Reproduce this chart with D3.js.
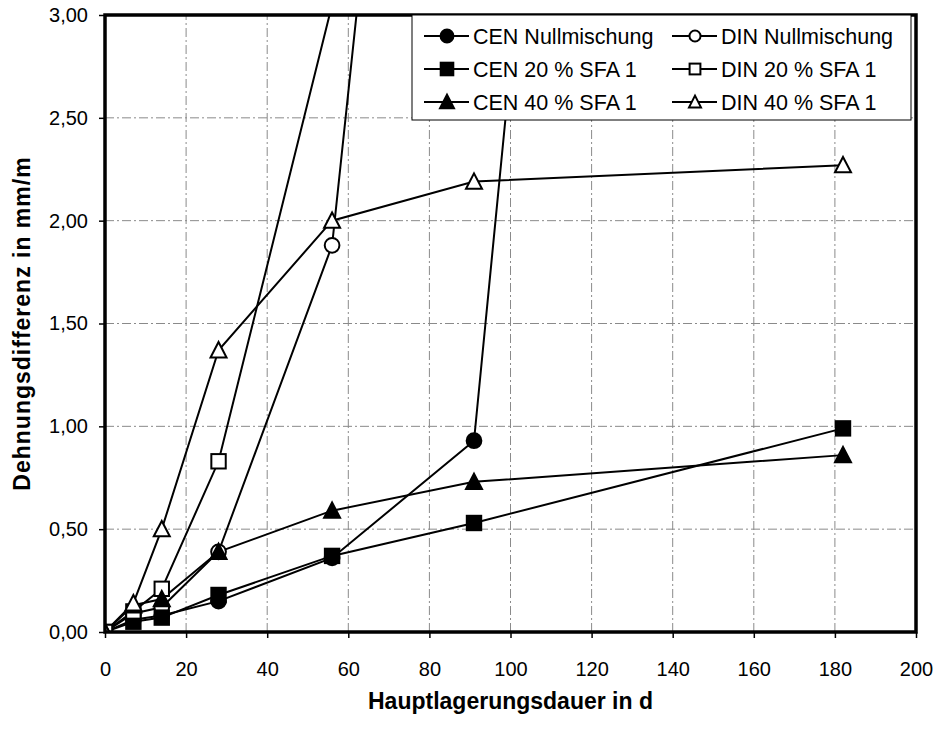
<!DOCTYPE html>
<html>
<head>
<meta charset="utf-8">
<script src="https://cdn.jsdelivr.net/npm/d3@7"></script>
<style>
  html, body { margin: 0; padding: 0; background: #fff; }
  svg { display: block; font-family: Arial, "Liberation Sans", sans-serif; }
</style>
</head>
<body>
<svg id="chart" width="935" height="729"></svg>
<script>
// Storage time in days
const days = [0, 7, 14, 28, 56, 91, 182];

// Strain difference in mm/m (null = not measured / off scale)
const cenNull = [0, 0.06, 0.08, 0.15, 0.36, 0.93, 19.3];
const dinNull = [0, 0.09, 0.12, 0.39, 1.88, 8.4, null];
const cen20   = [0, 0.05, 0.07, 0.18, 0.37, 0.53, 0.99];
const din20   = [0, 0.10, 0.21, 0.83, 3.05, null, null];
const cen40   = [0, 0.13, 0.16, 0.39, 0.59, 0.73, 0.86];
const din40   = [0, 0.14, 0.50, 1.37, 2.00, 2.19, 2.27];

const seriesNames = ["CEN Nullmischung", "DIN Nullmischung", "CEN 20 % SFA 1",
                     "DIN 20 % SFA 1", "CEN 40 % SFA 1", "DIN 40 % SFA 1"];
const seriesValues = [cenNull, dinNull, cen20, din20, cen40, din40];
const seriesShapes = ["circle", "circle", "square", "square", "triangle", "triangle"];
const seriesFilled = [true, false, true, false, true, false];

const xTicks = [0, 20, 40, 60, 80, 100, 120, 140, 160, 180, 200];
const yTicks = [0, 0.5, 1.0, 1.5, 2.0, 2.5, 3.0];

const xTitle = "Hauptlagerungsdauer in d";
const yTitle = "Dehnungsdifferenz in mm/m";

const svg = d3.select("#chart");
const margin = { left: 105, top: 15, right: 19, bottom: 97 };
const W = 935, H = 729;
const x = d3.scaleLinear().domain([0, 200]).range([margin.left, W - margin.right]);
const y = d3.scaleLinear().domain([0, 3]).range([H - margin.bottom, margin.top]);

const fmt = v => d3.format(".2f")(v).replace(".", ",");

// clip region = plot area
svg.append("defs").append("clipPath").attr("id", "plotClip")
  .append("rect")
  .attr("x", x(0)).attr("y", y(3))
  .attr("width", x(200) - x(0)).attr("height", y(0) - y(3));

// grid lines (dash-dot)
const grid = svg.append("g").attr("stroke", "#8a8a8a").attr("stroke-width", 1)
  .attr("stroke-dasharray", "9,3,2,3").attr("fill", "none");
xTicks.filter(t => t > 0 && t < 200).forEach(t => {
  grid.append("line").attr("x1", x(t)).attr("x2", x(t)).attr("y1", y(0)).attr("y2", y(3));
});
yTicks.filter(t => t > 0 && t < 3).forEach(t => {
  grid.append("line").attr("x1", x(0)).attr("x2", x(200)).attr("y1", y(t)).attr("y2", y(t));
});

// axes
const xAxis = svg.append("g").attr("transform", `translate(0,${y(0)})`)
  .call(d3.axisBottom(x).tickValues(xTicks).tickSize(6).tickPadding(24).tickFormat(d3.format("d")));
const yAxis = svg.append("g").attr("transform", `translate(${x(0)},0)`)
  .call(d3.axisLeft(y).tickValues(yTicks).tickSize(6).tickPadding(11).tickFormat(fmt));
[xAxis, yAxis].forEach(a => {
  a.select(".domain").remove();
  a.selectAll(".tick line").attr("stroke", "#000").attr("stroke-width", 1.5);
  a.selectAll(".tick text").attr("fill", "#000").style("font-size", "20px")
    .style("font-family", 'Arial, "Liberation Sans", sans-serif');
});

// series lines and markers
const plot = svg.append("g").attr("clip-path", "url(#plotClip)");
const line = d3.line()
  .defined(d => d[1] !== null)
  .x(d => x(d[0])).y(d => y(d[1]));

seriesValues.forEach(vals => {
  const pts = days.map((d, i) => [d, vals[i]]);
  plot.append("path").datum(pts)
    .attr("d", line).attr("fill", "none")
    .attr("stroke", "#000").attr("stroke-width", 2);
});

function drawMarker(g, shape, filled, cx, cy, size) {
  const fill = filled ? "#000" : "#fff";
  if (shape === "circle") {
    g.append("circle").attr("cx", cx).attr("cy", cy).attr("r", size * 0.46)
      .attr("fill", fill).attr("stroke", "#000").attr("stroke-width", 2);
  } else if (shape === "square") {
    const s = size * 0.9;
    g.append("rect").attr("x", cx - s / 2).attr("y", cy - s / 2).attr("width", s).attr("height", s)
      .attr("fill", fill).attr("stroke", "#000").attr("stroke-width", 2);
  } else {
    const h = size * 0.9, w = size;
    g.append("path")
      .attr("d", `M${cx},${cy - h / 2 - 1}L${cx + w / 2},${cy + h / 2}L${cx - w / 2},${cy + h / 2}Z`)
      .attr("fill", fill).attr("stroke", "#000").attr("stroke-width", 2);
  }
}

seriesValues.forEach((vals, si) => {
  days.forEach((d, i) => {
    const v = vals[i];
    if (v === null || v > 3) return;
    drawMarker(plot, seriesShapes[si], seriesFilled[si], x(d), y(v), 16);
  });
});

// plot frame
svg.append("rect")
  .attr("x", x(0)).attr("y", y(3))
  .attr("width", x(200) - x(0)).attr("height", y(0) - y(3))
  .attr("fill", "none").attr("stroke", "#000").attr("stroke-width", 3.5);

// legend
const leg = svg.append("g");
leg.append("rect").attr("x", 412).attr("y", 15).attr("width", 499).attr("height", 105)
  .attr("fill", "#fff").attr("stroke", "#000").attr("stroke-width", 1);
const colX = [447, 695];
const rowY = [36, 69, 102];
seriesNames.forEach((name, i) => {
  const col = i % 2, row = Math.floor(i / 2);
  const cx = colX[col], cy = rowY[row];
  leg.append("line").attr("x1", cx - 23).attr("x2", cx + 22).attr("y1", cy).attr("y2", cy)
    .attr("stroke", "#000").attr("stroke-width", 2);
  drawMarker(leg, seriesShapes[i], seriesFilled[i], cx, cy, col === 0 ? 14 : 12);
  leg.append("text").attr("x", cx + 26).attr("y", cy).attr("dy", "0.36em")
    .style("font-size", "21.5px").attr("fill", "#000").text(name);
});

// axis titles
svg.append("text").attr("x", x(100)).attr("y", 709).attr("text-anchor", "middle")
  .style("font-size", "23px").style("font-weight", "bold").text(xTitle);
svg.append("text")
  .attr("transform", `translate(30,${(y(0) + y(3)) / 2}) rotate(-90)`)
  .attr("text-anchor", "middle")
  .style("font-size", "23px").style("font-weight", "bold").style("letter-spacing", "1px")
  .text(yTitle);
</script>
</body>
</html>
